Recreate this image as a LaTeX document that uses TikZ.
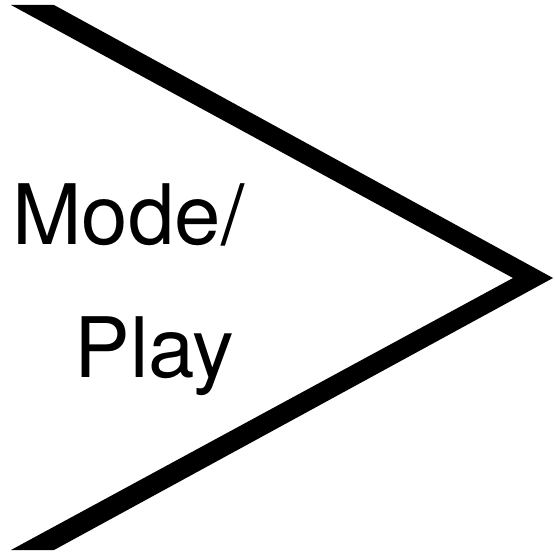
\documentclass[tikz,border=0pt]{standalone}
\usepackage{fontspec}
\setmainfont{TeX Gyre Heros}
\usetikzlibrary{positioning}

\begin{document}
\begin{tikzpicture}[
    x=0.02cm, y=-0.02cm,
    word/.style={inner sep=0pt, anchor=base west, font=\fontsize{47.5}{50}\selectfont},
    chevron/.style={fill=black, draw=none}
]
\useasboundingbox (0,0) rectangle (555,554);
% thick arrow-head shape
\fill[chevron] (11,5) -- (54,5) -- (553,278) -- (54,550) -- (11,550) -- (513,278) -- cycle;
\node[word] (mode) at (12,245) {Mode/};
\node[word] (play) at (74,377) {Play};
\end{tikzpicture}
\end{document}
